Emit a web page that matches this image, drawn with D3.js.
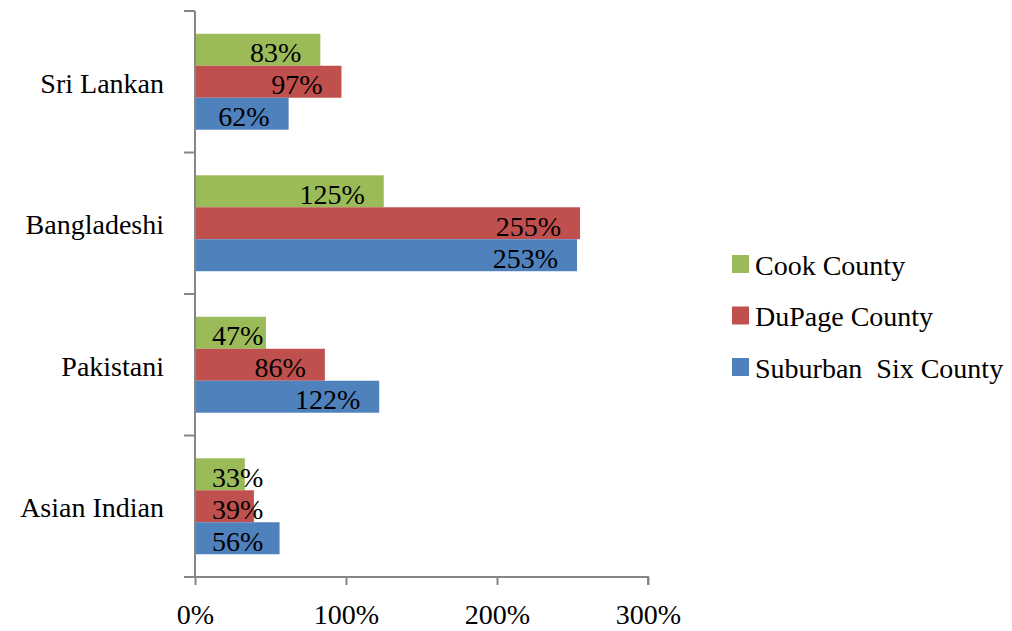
<!DOCTYPE html>
<html>
<head>
<meta charset="utf-8">
<script src="https://cdn.jsdelivr.net/npm/d3@7"></script>
<style>
  html, body { margin: 0; padding: 0; background: #fff; }
  svg text { font-family: "Liberation Serif", serif; fill: #000; white-space: pre; }
</style>
</head>
<body>
<svg id="chart" width="1012" height="631"></svg>
<script>
const categories = ["Sri Lankan", "Bangladeshi", "Pakistani", "Asian Indian"];
const seriesNames = ["Cook County", "DuPage County", "Suburban  Six County"];
const cookValues = [83, 125, 47, 33];
const dupageValues = [97, 255, 86, 39];
const suburbanValues = [62, 253, 122, 56];
const xTicks = [0, 100, 200, 300];
const colors = ["#9BBB59", "#C0504D", "#4F81BD"];

const seriesValues = [cookValues, dupageValues, suburbanValues];
const svg = d3.select("#chart");
const fontSize = 28;
const axisColor = "#868686";

const x = d3.scaleLinear().domain([0, 300]).range([195, 648]);
const y = d3.scaleBand().domain(categories).range([11, 577]).padding(0);
const inner = d3.scaleBand().domain(seriesNames)
  .range([0, y.bandwidth()]).paddingInner(0)
  .paddingOuter(((1 - 0.678) / 2) / (0.678 / 3));

const rows = [];
categories.forEach((c, ci) => {
  seriesNames.forEach((s, si) => {
    rows.push({ c, s, si, v: seriesValues[si][ci] });
  });
});

svg.append("g").selectAll("rect").data(rows).join("rect")
  .attr("x", x(0))
  .attr("y", d => y(d.c) + inner(d.s))
  .attr("width", d => x(d.v) - x(0))
  .attr("height", inner.bandwidth())
  .attr("fill", d => colors[d.si]);

// data labels
const labels = svg.append("g").selectAll("text").data(rows).join("text")
  .attr("font-size", fontSize)
  .attr("text-anchor", "end")
  .attr("y", d => y(d.c) + inner(d.s) + inner.bandwidth() / 2)
  .attr("dy", "0.44em")
  .text(d => d.v + "%");
labels.each(function(d) {
  const w = this.getComputedTextLength();
  const end = Math.max(x(d.v) - 19, x(0) + 17 + w);
  d3.select(this).attr("x", end);
});

// y axis line and boundary ticks
const yAxis = svg.append("g").attr("stroke", axisColor).attr("stroke-width", 2);
yAxis.append("line").attr("x1", x(0)).attr("x2", x(0))
  .attr("y1", y.range()[0]).attr("y2", y.range()[1]);
const boundaries = categories.map(c => y(c)).concat([y.range()[1]]);
yAxis.selectAll("line.tick").data(boundaries).join("line").attr("class", "tick")
  .attr("x1", x(0) - 11).attr("x2", x(0)).attr("y1", d => d).attr("y2", d => d);

// category labels
svg.append("g").selectAll("text").data(categories).join("text")
  .attr("font-size", fontSize)
  .attr("text-anchor", "end")
  .attr("x", 164)
  .attr("y", c => y(c) + y.bandwidth() / 2)
  .attr("dy", "0.4em")
  .text(c => c);

// x axis
const xAxis = d3.axisBottom(x).tickValues(xTicks).tickSize(8).tickPadding(19)
  .tickFormat(d => d + "%");
const gx = svg.append("g").attr("transform", `translate(0,${y.range()[1]})`).call(xAxis);
gx.select(".domain").attr("stroke", axisColor).attr("stroke-width", 2)
  .attr("d", `M${x(0) - 11},0H${x(300)}V8`);
gx.selectAll(".tick line").attr("stroke", axisColor).attr("stroke-width", 2);
gx.selectAll(".tick text").attr("font-size", fontSize).attr("font-family", "Liberation Serif, serif").attr("fill", "#000");

// legend
const legend = svg.append("g").selectAll("g").data(seriesNames).join("g")
  .attr("transform", (s, i) => `translate(732,${264 + i * 51.5})`);
legend.append("rect").attr("x", 0).attr("y", -9).attr("width", 17).attr("height", 18)
  .attr("fill", (s, i) => colors[i]);
legend.append("text").attr("x", 23).attr("y", 0).attr("dy", "0.38em")
  .attr("font-size", fontSize).text(s => s);
</script>
</body>
</html>
